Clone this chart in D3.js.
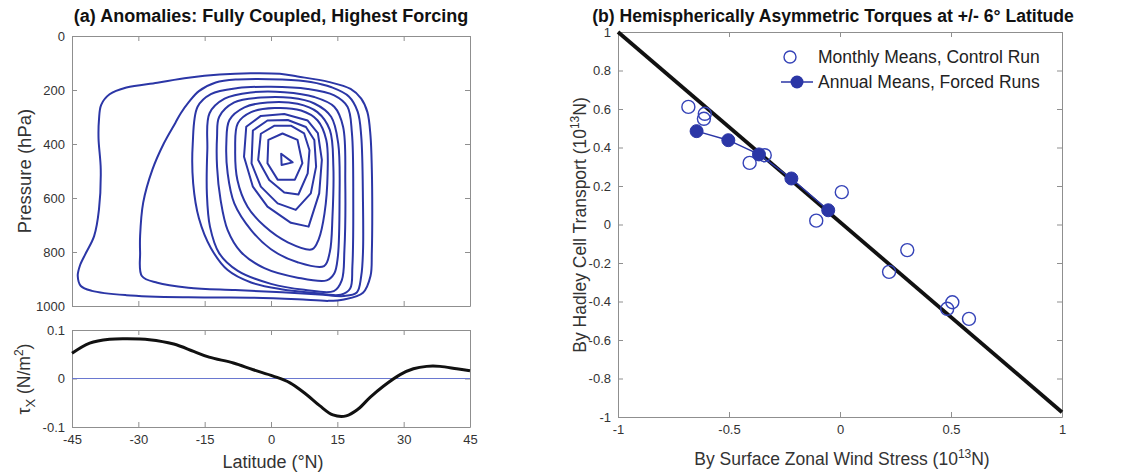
<!DOCTYPE html>
<html>
<head>
<meta charset="utf-8">
<script src="https://cdn.jsdelivr.net/npm/d3@7"></script>
<style>
  body { margin: 0; background: #fff; }
  text { font-family: "Liberation Sans", Arial, Helvetica, sans-serif; }
</style>
</head>
<body>
<script>
// ---- data -------------------------------------------------------------
const latTicks = [-45, -30, -15, 0, 15, 30, 45];
const presTicks = [0, 200, 400, 600, 800, 1000];
const tauTicks = [-0.1, 0, 0.1];
const stressTicks = [-1, -0.5, 0, 0.5, 1];
const torqueTicks = [-1, -0.8, -0.6, -0.4, -0.2, 0, 0.2, 0.4, 0.6, 0.8, 1];

// streamfunction anomaly contours, [latitude, pressure]
const streamC1 = [[-38.4,255],[-36.5,216],[-32.7,191],[-25.7,173],[-18.7,155],[-11.6,143],[-4.6,138],[2,140],[6,150],[13,170],[18,196],[20.4,232],[21.8,282],[22.5,370],[22.8,494],[22.9,650],[22.8,800],[22.5,889],[20.8,951],[16.5,976],[13,981],[6,975],[-4.6,969],[-18.7,968],[-32.7,960],[-40.5,944],[-43,926],[-43.7,889],[-43.2,850],[-41.8,802],[-40,741],[-38.9,642],[-38.5,494],[-39,380],[-38.9,310]];
const streamC2 = [[-21.6,321],[-20.4,286],[-18.6,245],[-16.3,204],[-12.5,172],[-7.5,161],[2.5,161],[9,170],[13.7,190],[17.6,224],[19.6,280],[20.4,370],[20.8,617],[20.8,800],[20.4,889],[19.4,950],[16.5,963],[10.9,957],[2.5,949],[-8.1,941],[-18.7,932],[-25.7,914],[-29.2,889],[-29.6,800],[-29.6,741],[-28.9,617],[-26.8,494],[-24.3,400]];
const streamC3 = [[-16.6,262],[-13.6,215],[-7.5,193],[0,188],[8.3,196],[14.3,220],[17.3,262],[18.3,360],[18.6,607],[18.4,854],[17.9,935],[15.8,958],[9.8,952],[2.3,938],[-4.5,913],[-9.8,867],[-13.6,785],[-16.3,675],[-17.6,546],[-17.7,400]];
const streamC4 = [[-13.9,286],[-10.5,232],[-4.5,209],[3,208],[9.8,226],[14.3,262],[16.3,336],[16.8,546],[16.6,793],[16,905],[14.2,945],[7.5,940],[0,918],[-7.5,870],[-11.7,805],[-13.8,706],[-14.5,583],[-14.4,422]];
const streamC5 = [[-11.7,299],[-8.3,246],[-2.3,228],[4.5,229],[9.8,250],[13.6,299],[15.2,398],[15.5,607],[15.1,820],[14.3,880],[12.6,905],[6,895],[-1.5,860],[-6.8,800],[-9.8,719],[-11.4,607],[-12.2,484],[-12.2,373]];
const streamC6 = [[-9.4,311],[-6,264],[-0.8,246],[6,251],[10.5,282],[13.3,348],[14.1,484],[13.9,669],[13.3,800],[12,852],[6,838],[0,790],[-4.5,719],[-8.3,620],[-9.8,509],[-10.1,398]];
const streamC7 = [[-7.5,323],[-4.5,282],[0.8,267],[6.8,276],[10.5,312],[12.5,385],[12.8,509],[12.1,657],[10.8,752],[9.3,790],[3.8,764],[-1.5,704],[-5.3,632],[-7.6,533],[-8.1,422]];
const streamC8 = [[-5.6,336],[-2.3,296],[3,289],[8.3,313],[10.6,360],[11.5,459],[10.9,583],[8.5,706],[4.5,692],[-0.8,632],[-4.1,558],[-6.1,447]];
const streamC9 = [[-4.1,350],[-0.8,313],[3.8,311],[7.9,337],[9.8,385],[10.2,484],[9,583],[5.6,644],[1.5,620],[-2.3,558],[-4.4,472]];
const streamC10 = [[-2.3,362],[0.8,332],[4.5,332],[7.5,361],[8.7,423],[8.3,509],[6.2,587],[3,580],[-0.4,533],[-2.9,459]];
const streamC11 = [[-0.6,385],[2.6,361],[6,385],[7.1,471],[5.4,532],[1.5,532],[-0.8,471]];
const streamC12 = [[2.3,436],[4.9,468],[2.4,478]];
const streamContours = [streamC1, streamC2, streamC3, streamC4, streamC5, streamC6,
  streamC7, streamC8, streamC9, streamC10, streamC11, streamC12];

// zonal wind stress anomaly
const tauLat = [-45, -41, -36.5, -32.5, -27.5, -22, -17.5, -14, -8.5, -4, 0.5, 4.3, 8, 11, 14, 17, 19.7, 22.4, 25.4, 29.2, 32.2, 35.2, 38.2, 42, 45];
const tauVal = [0.052, 0.073, 0.081, 0.082, 0.080, 0.071, 0.056, 0.044, 0.032, 0.018, 0.005, -0.009, -0.033, -0.056, -0.075, -0.077, -0.063, -0.039, -0.016, 0.008, 0.020, 0.025, 0.025, 0.020, 0.016];

// torques (10^13 N)
const monthlyStress = [-0.683, -0.609, -0.613, -0.407, -0.339, -0.107, 0.008, 0.303, 0.221, 0.506, 0.483, 0.581];
const monthlyHadley = [0.611, 0.575, 0.549, 0.320, 0.360, 0.020, 0.168, -0.133, -0.246, -0.404, -0.438, -0.490];
const annualStress = [-0.646, -0.503, -0.365, -0.219, -0.053];
const annualHadley = [0.485, 0.438, 0.364, 0.239, 0.074];
const balanceStress = [-1, 1];
const balanceHadley = [1, -0.975];

// ---- drawing ------------------------------------------------------------
const W = 1137, H = 476;
const blue = "#2b36a6", axisGrey = "#8f8f8f", labelGrey = "#333";

const svg = d3.select("body").append("svg")
  .attr("width", W)
  .attr("height", H);

const xLat = d3.scaleLinear().domain([-45, 45]).range([72, 470]);
const yPres = d3.scaleLinear().domain([0, 1000]).range([36, 306]);
const yTau = d3.scaleLinear().domain([-0.1, 0.1]).range([427, 330]);
const xStress = d3.scaleLinear().domain([-1, 1]).range([618, 1062]);
const yTorque = d3.scaleLinear().domain([-1, 1]).range([417, 32]);

function frame(xs, ys, xTicks, yTicks, xLabels) {
  const [x0, x1] = xs.range();
  const yr = ys.range();
  const top = Math.min(yr[0], yr[1]), bottom = Math.max(yr[0], yr[1]);
  const g = svg.append("g");
  g.append("g").attr("transform", "translate(0," + bottom + ")")
    .call(d3.axisBottom(xs).tickValues(xTicks).tickSize(-5).tickSizeOuter(0).tickPadding(8)
      .tickFormat(xLabels ? d => String(d) : ""));
  g.append("g").attr("transform", "translate(0," + top + ")")
    .call(d3.axisTop(xs).tickValues(xTicks).tickSize(-5).tickSizeOuter(0).tickFormat(""));
  g.append("g").attr("transform", "translate(" + x0 + ",0)")
    .call(d3.axisLeft(ys).tickValues(yTicks).tickSize(-5).tickSizeOuter(0).tickPadding(7)
      .tickFormat(d => String(d)));
  g.append("g").attr("transform", "translate(" + x1 + ",0)")
    .call(d3.axisRight(ys).tickValues(yTicks).tickSize(-5).tickSizeOuter(0).tickFormat(""));
  g.selectAll(".domain, .tick line").attr("stroke", axisGrey);
  g.selectAll("text")
    .attr("fill", labelGrey)
    .attr("font-size", 13)
    .attr("font-family", "Liberation Sans, Arial, sans-serif");
  return g;
}

// panel (a) top: contours
frame(xLat, yPres, latTicks, presTicks, false);

const contourLine = d3.line()
  .x(d => xLat(d[0]))
  .y(d => yPres(d[1]));

svg.append("g").selectAll("path")
  .data(streamContours)
  .join("path")
  .attr("d", (d, i) => contourLine.curve(i < 7 ? d3.curveCatmullRomClosed.alpha(0.5) : d3.curveLinearClosed)(d))
  .attr("fill", "none")
  .attr("stroke", blue)
  .attr("stroke-width", 2)
  .attr("stroke-linejoin", "round");

// panel (a) bottom: wind stress
frame(xLat, yTau, latTicks, tauTicks, true);

svg.append("line")
  .attr("x1", xLat(-45)).attr("x2", xLat(45))
  .attr("y1", yTau(0)).attr("y2", yTau(0))
  .attr("stroke", "#6a78d0").attr("stroke-width", 1);

svg.append("path")
  .datum(tauLat.map((d, i) => [d, tauVal[i]]))
  .attr("d", d3.line().x(d => xLat(d[0])).y(d => yTau(d[1])).curve(d3.curveCatmullRom))
  .attr("fill", "none")
  .attr("stroke", "#111")
  .attr("stroke-width", 3);

// panel (b)
frame(xStress, yTorque, stressTicks, torqueTicks, true);

svg.append("path")
  .datum(balanceStress.map((d, i) => [d, balanceHadley[i]]))
  .attr("d", d3.line().x(d => xStress(d[0])).y(d => yTorque(d[1])))
  .attr("stroke", "#111")
  .attr("stroke-width", 3.8);

svg.append("path")
  .datum(annualStress.map((d, i) => [d, annualHadley[i]]))
  .attr("d", d3.line().x(d => xStress(d[0])).y(d => yTorque(d[1])))
  .attr("fill", "none")
  .attr("stroke", blue)
  .attr("stroke-width", 1.5);

svg.append("g").selectAll("circle")
  .data(monthlyStress)
  .join("circle")
  .attr("cx", d => xStress(d))
  .attr("cy", (d, i) => yTorque(monthlyHadley[i]))
  .attr("r", 6.5)
  .attr("fill", "none")
  .attr("stroke", "#3543b8")
  .attr("stroke-width", 1.4);

svg.append("g").selectAll("circle")
  .data(annualStress)
  .join("circle")
  .attr("cx", d => xStress(d))
  .attr("cy", (d, i) => yTorque(annualHadley[i]))
  .attr("r", 6.5)
  .attr("fill", blue)
  .attr("stroke", blue);

// legend
const leg = svg.append("g");
leg.append("circle").attr("cx", 790).attr("cy", 57).attr("r", 6).attr("fill", "none")
  .attr("stroke", "#3543b8").attr("stroke-width", 1.4);
leg.append("line").attr("x1", 781).attr("x2", 813).attr("y1", 82).attr("y2", 82)
  .attr("stroke", blue).attr("stroke-width", 1.5);
leg.append("circle").attr("cx", 797).attr("cy", 82).attr("r", 6.5).attr("fill", blue);
leg.append("text").attr("x", 818).attr("y", 63).text("Monthly Means, Control Run");
leg.append("text").attr("x", 818).attr("y", 88).text("Annual Means, Forced Runs");
leg.selectAll("text").attr("font-size", 17.5).attr("fill", "#222");

// titles and axis labels
function label(x, y, rot, size, weight) {
  return svg.append("text")
    .attr("transform", "translate(" + x + "," + y + ")" + (rot ? " rotate(-90)" : ""))
    .attr("text-anchor", "middle")
    .attr("font-size", size)
    .attr("font-weight", weight || "normal")
    .attr("fill", weight ? "#111" : labelGrey);
}

label(271, 22, false, 18, "bold").text("(a) Anomalies: Fully Coupled, Highest Forcing");
label(833, 22, false, 17.6, "bold").text("(b) Hemispherically Asymmetric Torques at +/- 6\u00b0 Latitude");

label(31, 171, true, 18.5).text("Pressure (hPa)");
label(273, 468, false, 18).text("Latitude (\u00b0N)");

const tauLabel = label(30, 379, true, 17.5);
tauLabel.append("tspan").text("\u03c4");
tauLabel.append("tspan").attr("font-size", 13).attr("dy", 5).text("X");
tauLabel.append("tspan").attr("dy", -5).text(" (N/m");
tauLabel.append("tspan").attr("font-size", 12).attr("dy", -7).text("2");
tauLabel.append("tspan").attr("dy", 7).text(")");

const hadleyLabel = label(586, 225, true, 17.5);
hadleyLabel.append("tspan").text("By Hadley Cell Transport (10");
hadleyLabel.append("tspan").attr("font-size", 12).attr("dy", -7).text("13");
hadleyLabel.append("tspan").attr("dy", 7).text("N)");

const stressLabel = label(842, 465, false, 17.5);
stressLabel.append("tspan").text("By Surface Zonal Wind Stress (10");
stressLabel.append("tspan").attr("font-size", 12).attr("dy", -7).text("13");
stressLabel.append("tspan").attr("dy", 7).text("N)");
</script>
</body>
</html>
